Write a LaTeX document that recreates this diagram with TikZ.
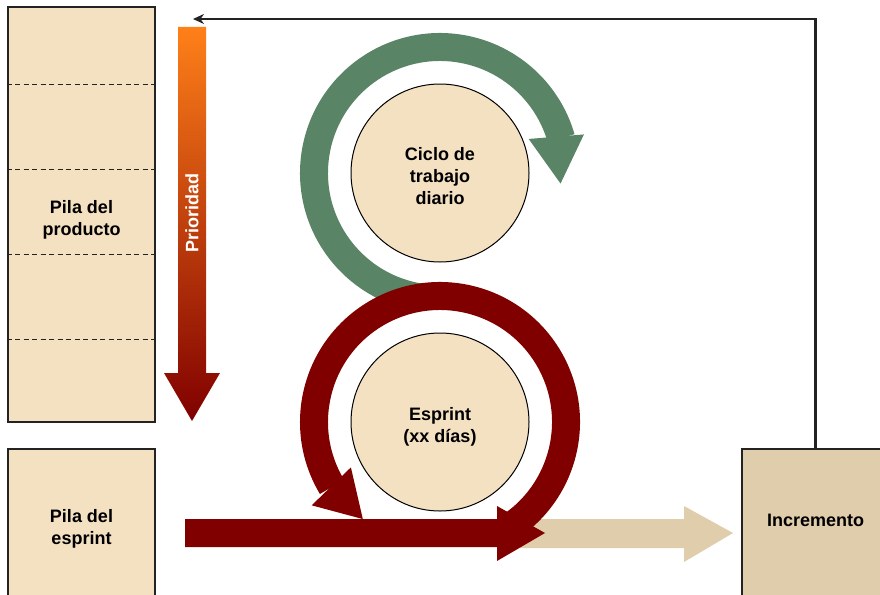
\documentclass[tikz,border=0pt]{standalone}
\usepackage{fontspec}
\setmainfont{Liberation Sans}
\usetikzlibrary{arrows.meta,calc}
\definecolor{pila}{RGB}{244,225,194}
\definecolor{incr}{RGB}{224,205,171}
\definecolor{verde}{RGB}{90,132,102}
\definecolor{rojo}{RGB}{128,0,0}
\definecolor{naranja}{RGB}{255,128,25}
\definecolor{rojizo}{RGB}{212,76,16}
\definecolor{borde}{RGB}{35,35,35}
\newcommand{\rotulo}{\bfseries\fontsize{18}{22}\selectfont}
\tikzset{
  pilabox/.style ={rectangle, draw=borde, line width=2.8pt, fill=pila,
                   minimum width=147pt, inner sep=0pt, align=center, font=\rotulo,
                   text height=45pt},
  incbox/.style  ={rectangle, draw=borde, line width=2.8pt, fill=incr,
                   minimum width=147pt, inner sep=0pt, font=\rotulo, text depth=7pt},
  ciclo/.style   ={circle, draw=black, line width=1pt, fill=pila,
                   minimum size=178pt, inner sep=0pt, align=center, font=\rotulo},
  anillo/.style  ={line width=28pt},
  divisor/.style ={draw=borde, line width=0.9pt, dash pattern=on 5pt off 3.5pt},
  ar/.style      ={-{Stealth[length=11pt,width=10pt]}, line width=2.3pt, draw=borde},
}

\begin{document}
\begin{tikzpicture}[x=1pt,y=-1pt]
\useasboundingbox (0,0) rectangle (880,594);
\clip (0,0) rectangle (880,594);

\node[pilabox, minimum height=415pt] (prod) at (81.5,214.5) {Pila del\\producto};
\foreach \y in {84,169,254,339}
  \draw[divisor] (prod.west |- 0,\y) -- (prod.east |- 0,\y);
\node[pilabox, minimum height=150pt] (sprint) at (81.5,524) {Pila del\\esprint};
\node[incbox, minimum height=150pt] (inc) at (815.5,524) {Incremento};

\shade[top color=naranja, middle color=rojizo, bottom color=rojo]
  (178,27) -- (206,27) -- (206,373) -- (220,373) -- (192,421) -- (164,373) -- (178,373) -- cycle;
\node[rotate=90, text=white, font=\rotulo] (prio) at (192,213) {Prioridad};

\coordinate (fbend) at (193,19);
\draw[ar] (inc.north) |- (fbend);

\fill[incr] (520,519) -- (684,519) -- (684,506) -- (733,533) -- (684,562) -- (684,548) -- (520,548) -- cycle;

\node[ciclo, text height=63pt] (diario) at (440,173) {Ciclo de\\trabajo\\diario};
\node[ciclo, text height=45pt] (esprint) at (440,422) {Esprint\\(xx días)};

\begin{scope}[shift={(diario.center)}]
  \draw[anillo, verde] (98:126) arc[start angle=98, end angle=344, radius=126];
  \fill[verde] (339:95) -- (345:149) -- (5:121) -- cycle;
\end{scope}

\begin{scope}[shift={(esprint.center)}]
  \draw[anillo, rojo] (58:126) arc[start angle=58, end angle=-211, radius=126];
  \fill[rojo] (147:153) -- (153:100) -- (128.5:124) -- cycle;
\end{scope}
\fill[rojo] (185,519) -- (497,519) -- (497,506) -- (545,533) -- (497,561) -- (497,547) -- (185,547) -- cycle;
\end{tikzpicture}
\end{document}
